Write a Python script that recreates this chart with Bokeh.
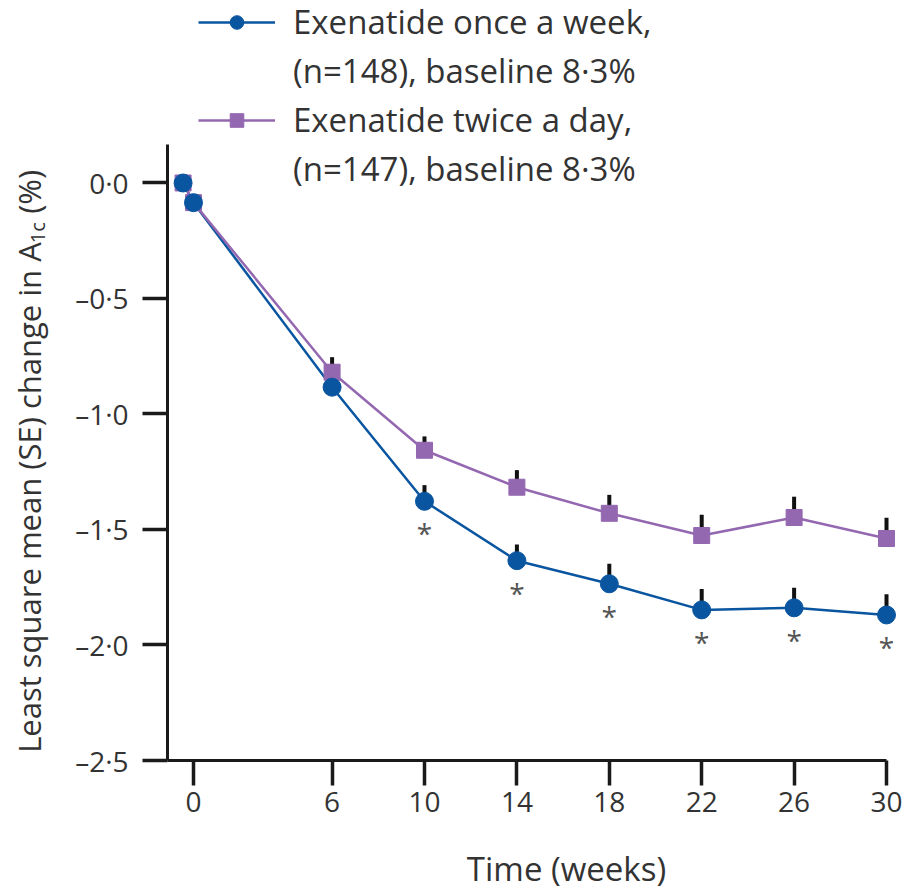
import math
from bokeh.plotting import figure
from bokeh.models import (Range1d, FixedTicker, Legend, LegendItem, ColumnDataSource)
from bokeh.layouts import row, column
from bokeh.core.properties import value
from bokeh.embed import file_html
from bokeh.resources import INLINE

# ---- data ----
weeks = [-0.45, 0, 6, 10, 14, 18, 22, 26, 30]
weekly_mean = [0.0, -0.085, -0.884, -1.378, -1.635, -1.735, -1.848, -1.839, -1.87]
weekly_se = [0.0, 0.0, 0.06, 0.07, 0.07, 0.087, 0.09, 0.087, 0.09]
twice_mean = [0.0, -0.085, -0.819, -1.157, -1.317, -1.43, -1.526, -1.448, -1.539]
twice_se = [0.0, 0.0, 0.065, 0.06, 0.074, 0.08, 0.09, 0.09, 0.09]
sig_weeks = [10, 14, 18, 22, 26, 30]

x_ticks = [0, 6, 10, 14, 18, 22, 26, 30]
y_ticks = [0.0, -0.5, -1.0, -1.5, -2.0, -2.5]
y_tick_labels = ["0·0", "–0·5", "–1·0", "–1·5", "–2·0", "–2·5"]

label_weekly = ["Exenatide once a week,", "(n=148), baseline 8·3%"]
label_twice = ["Exenatide twice a day,", "(n=147), baseline 8·3%"]
x_title = "Time (weeks)"
y_title = ["Least square mean (SE) change in A", "1c", "(%)"]

BLUE = "#0a55a0"
PURPLE = "#9468b1"
FONT = "Open Sans"
TXT = "#333333"

# layout sizes (pixels)
W, H = 912, 890
LEFT_W = 62          # strip holding the y title
BOTTOM_H = 60        # strip holding the x title
MAIN_H = H - BOTTOM_H


def text_strip(width, height):
    f = figure(width=width, height=height, output_backend="svg", toolbar_location=None,
               x_range=Range1d(0, width), y_range=Range1d(0, height),
               x_axis_type=None, y_axis_type=None, min_border=0)
    f.outline_line_color = None
    f.grid.visible = False
    return f


p = figure(width=W - LEFT_W, height=MAIN_H, output_backend="svg", toolbar_location=None,
           x_range=Range1d(-1.125, 31.125), y_range=Range1d(-2.5, 0.79),
           min_border_left=167 - LEFT_W, min_border_bottom=MAIN_H - 760,
           min_border_top=0, min_border_right=0)
p.outline_line_color = None
p.grid.visible = False
p.background_fill_color = None

# axes
p.xaxis.ticker = FixedTicker(ticks=x_ticks)
p.xaxis.bounds = (-1.125, 30)
p.yaxis.ticker = FixedTicker(ticks=y_ticks)
p.yaxis.bounds = (-2.5, 0.165)
p.yaxis.major_label_overrides = {t: l for t, l in zip(y_ticks, y_tick_labels)}
for ax in (p.xaxis[0], p.yaxis[0]):
    ax.axis_line_width = 3
    ax.axis_line_color = "#1a1a1a"
    ax.major_tick_line_width = 3.5
    ax.major_tick_line_color = "#1a1a1a"
    ax.major_tick_out = 25
    ax.major_tick_in = 0
    ax.minor_tick_out = 0
    ax.minor_tick_in = 0
    ax.major_label_text_color = TXT
    ax.major_label_text_font = FONT
p.xaxis.major_label_text_font_size = "28px"
p.xaxis.major_label_standoff = 6
p.yaxis.major_label_text_font_size = "28px"
p.yaxis.major_label_standoff = 14

# series
src_w = ColumnDataSource(dict(x=weeks, y=weekly_mean,
                              top=[m + s for m, s in zip(weekly_mean, weekly_se)]))
src_t = ColumnDataSource(dict(x=weeks, y=twice_mean,
                              top=[m + s for m, s in zip(twice_mean, twice_se)]))

lw = p.line("x", "y", source=src_w, line_color=BLUE, line_width=2.5)
lt = p.line("x", "y", source=src_t, line_color=PURPLE, line_width=2.5)
p.segment(x0="x", y0="y", x1="x", y1="top", source=src_w, line_color="#111111", line_width=4)
p.segment(x0="x", y0="y", x1="x", y1="top", source=src_t, line_color="#111111", line_width=4)
mt = p.scatter("x", "y", source=src_t, marker="square", size=16,
               fill_color=PURPLE, line_color=PURPLE)
mw = p.scatter("x", "y", source=src_w, marker="circle", size=18,
               fill_color=BLUE, line_color=BLUE)

# significance asterisks below the once-weekly points
star_y = [weekly_mean[weeks.index(w)] for w in sig_weeks]
p.text(x=sig_weeks, y=star_y, text=["*"] * len(sig_weeks), text_align="center",
       text_baseline="top", y_offset=13, text_font=value(FONT), text_font_size="28px",
       text_color="#555555")

# legend
blank = p.line(x=[], y=[], line_alpha=0)
legend = Legend(items=[
    LegendItem(label=label_weekly[0], renderers=[lw, mw]),
    LegendItem(label=label_weekly[1], renderers=[blank]),
    LegendItem(label=label_twice[0], renderers=[lt, mt]),
    LegendItem(label=label_twice[1], renderers=[blank]),
], location=(31, 569), orientation="vertical")
legend.border_line_color = None
legend.background_fill_alpha = 0
legend.padding = 0
legend.margin = 0
legend.spacing = 4
legend.glyph_width = 77
legend.glyph_height = 34
legend.label_height = 44
legend.label_standoff = 18
legend.label_text_font = FONT
legend.label_text_font_size = "33px"
legend.label_text_color = TXT
p.add_layout(legend)

# y title strip (rotated text with subscript)
yl = text_strip(LEFT_W, MAIN_H)
rot = dict(angle=math.pi / 2, text_font=value(FONT), text_color=TXT,
           text_baseline="alphabetic")
yl.text(x=[28], y=[MAIN_H - 264], text=[y_title[0]], text_align="right",
        text_font_size="31px", **rot)
yl.text(x=[37], y=[MAIN_H - 265], text=[y_title[1]], text_align="left",
        text_font_size="20px", **rot)
yl.text(x=[28], y=[MAIN_H - 233], text=[y_title[2]], text_align="left",
        text_font_size="31px", **rot)

# x title strip
xl = text_strip(W, BOTTOM_H)
xl.text(x=[566], y=[BOTTOM_H - 15], text=[x_title], text_align="center",
        text_baseline="top", text_font=value(FONT), text_font_size="33px",
        text_color=TXT)

layout = column(row(yl, p, spacing=0), xl, spacing=0)
open("out.html", "w").write(file_html(layout, INLINE))
